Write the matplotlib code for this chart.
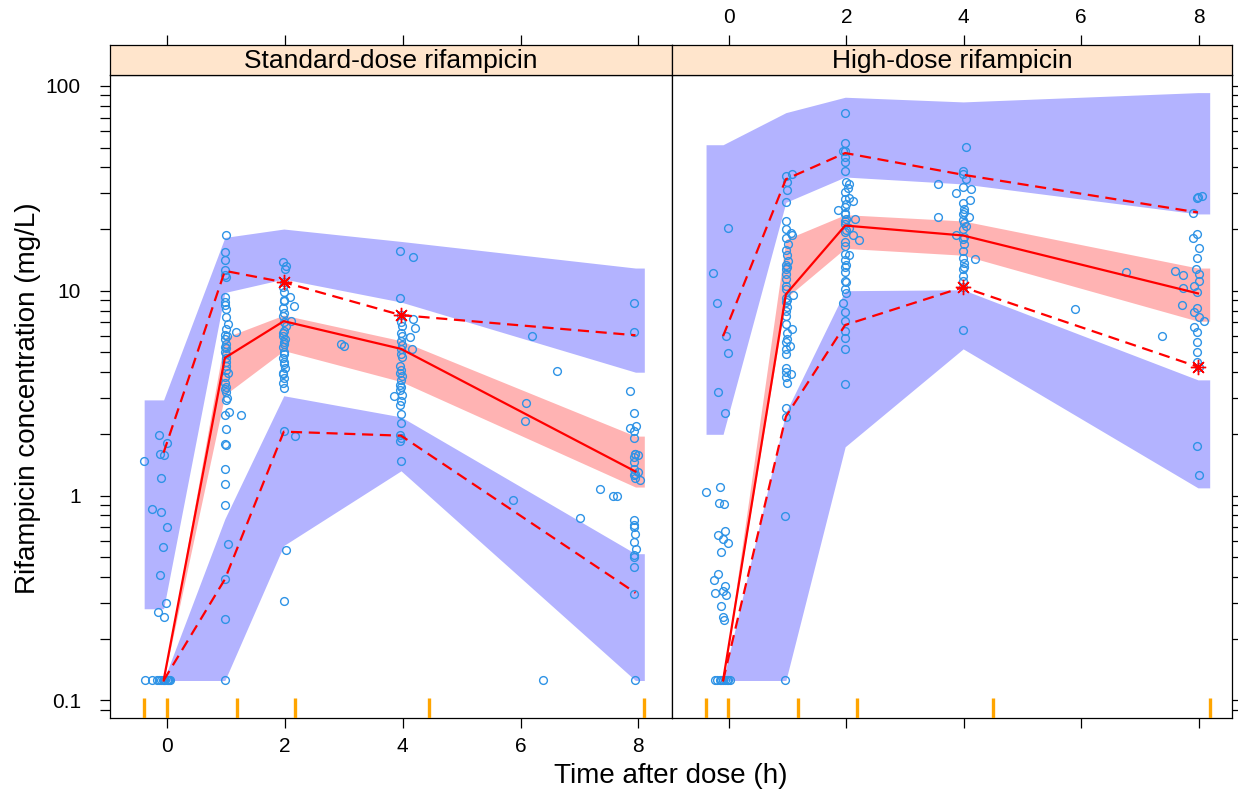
import numpy as np
import matplotlib.pyplot as plt
import matplotlib.transforms as mtransforms
from matplotlib.ticker import FixedLocator, NullFormatter

plt.rcParams['font.family'] = ['Liberation Sans', 'DejaVu Sans']

# ---------------------------------------------------------------------------
# Observed concentrations (mg/L) vs time after dose (h)
# ---------------------------------------------------------------------------
std_t = [
    # pre-dose
    -0.13, -0.01, -0.12, -0.05, -0.39, -0.10, -0.25, -0.10, -0.01, -0.07, -0.12, -0.02, -0.16, -0.05,
    -0.37, -0.26, -0.17, -0.13, -0.10, -0.07, -0.05, -0.03, -0.01, 0.01, 0.03, 0.05,
    # 1 h
    1.00, 0.99, 0.99, 0.98, 0.99, 1.00, 0.98, 0.99, 0.99, 1.00, 1.04, 1.00, 1.17, 0.99, 0.99, 1.00,
    1.00, 0.99, 1.00, 1.00, 1.00, 1.04, 0.99, 0.99, 1.01, 1.00, 0.99, 1.05, 1.26, 1.00, 0.99, 1.00,
    0.99, 0.98, 0.98, 1.04, 0.99, 0.99, 0.98, 1.00, 1.01, 0.99, 1.00, 1.00, 0.99, 1.00, 1.00,
    # 2 h
    1.97, 2.01, 2.00, 1.98, 1.97, 1.98, 2.08, 1.98, 2.15, 1.97, 1.98, 1.97, 2.11, 2.02, 1.98, 1.97,
    2.00, 1.98, 1.97, 1.98, 1.97, 1.98, 2.00, 1.97, 1.98, 1.97, 1.98, 1.98, 2.17, 2.01, 1.98,
    1.99, 1.98, 1.97, 1.98, 1.99, 1.98, 1.97,
    # 3 h
    2.95, 3.01,
    # 4 h
    3.96, 4.17, 3.96, 4.18, 3.97, 3.98, 4.21, 3.97, 4.12, 3.97, 3.98, 4.15, 3.97, 3.98, 3.97, 3.96,
    3.98, 3.97, 3.96, 3.95, 3.85, 3.97, 3.96, 3.97, 3.97, 3.96, 3.97, 3.96, 3.97, 3.97,
    3.98, 3.97, 3.96, 3.97, 3.98,
    # later, off-schedule
    6.19, 6.61, 6.10, 6.07, 7.34, 7.56, 7.63, 5.87, 7.00, 6.38,
    # 8 h
    7.93, 7.93, 7.85, 7.92, 7.96, 7.85, 7.93, 7.92, 7.94, 8.00, 7.93, 7.92, 8.00, 7.93, 7.94, 8.02,
    7.93, 7.92, 7.94, 7.93, 7.96, 7.93, 7.92, 7.93, 7.93, 7.94, 7.95, 7.93, 7.94, 7.92,
]
std_c = [
    1.98, 1.80, 1.59, 1.57, 1.47, 1.22, 0.86, 0.83, 0.70, 0.56, 0.41, 0.30, 0.27, 0.255,
    0.125, 0.125, 0.125, 0.125, 0.125, 0.125, 0.125, 0.125, 0.125, 0.125, 0.125, 0.125,
    18.6, 15.5, 14.1, 12.6, 11.9, 11.7, 9.35, 8.8, 8.5, 8.1, 6.9, 6.5, 6.3, 6.1, 5.8, 5.5,
    5.26, 5.0, 4.7, 4.5, 4.1, 3.97, 3.55, 3.3, 3.0, 2.94, 2.48, 2.55, 2.46, 2.12, 1.79, 1.76,
    1.34, 1.14, 0.90, 0.58, 0.39, 0.25, 0.125, 7.4, 6.0, 5.3, 4.9, 4.3, 3.8, 3.4, 3.2,
    13.8, 13.2, 12.8, 11.0, 10.4, 9.8, 9.3, 8.9, 8.4, 8.27, 7.8, 7.5, 7.1, 6.7, 6.35, 6.0,
    5.8, 5.6, 5.3, 5.0, 4.7, 4.4, 4.2, 3.97, 3.75, 3.55, 3.35, 2.06, 1.95, 0.54, 0.305,
    9.0, 7.0, 6.2, 5.5, 4.9, 4.5, 3.9,
    5.5, 5.4,
    15.6, 14.6, 9.25, 7.3, 7.0, 6.7, 6.55, 6.2, 5.95, 5.7, 5.43, 5.17, 4.9, 4.75, 4.1, 3.97,
    3.83, 3.65, 3.48, 3.26, 3.06, 2.9, 2.76, 2.5, 2.26, 1.98, 1.9, 1.84, 1.47, 7.6,
    6.0, 5.2, 4.3, 3.4, 3.1,
    6.03, 4.04, 2.83, 2.31, 1.08, 0.99, 0.99, 0.95, 0.775, 0.125,
    8.67, 6.3, 3.23, 2.53, 2.18, 2.14, 2.06, 1.91, 1.59, 1.57, 1.54, 1.34, 1.31, 1.26, 1.22, 1.19,
    0.76, 0.72, 0.65, 0.595, 0.55, 0.51, 0.50, 0.45, 0.33, 0.125, 1.60, 1.45, 1.28, 0.70,
]

high_t = [
    # pre-dose
    -0.02, -0.28, -0.20, -0.05, -0.02, -0.18, -0.07, -0.39, -0.16, -0.17, -0.09, -0.06, -0.18,
    -0.10, -0.01, -0.13, -0.18, -0.25, -0.07, -0.23, -0.10, -0.05, -0.13, -0.10, -0.09,
    -0.24, -0.20, -0.16, -0.13, -0.10, -0.07, -0.04, -0.01, 0.02,
    # 1 h
    0.97, 1.07, 0.99, 0.99, 0.98, 0.97, 0.98, 1.06, 1.08, 0.98, 1.00, 0.98, 0.99, 1.00, 0.98, 0.98,
    0.97, 0.98, 1.09, 0.98, 0.98, 0.99, 0.98, 0.98, 1.07, 0.99, 0.98, 1.04, 0.98, 0.98, 0.98, 1.06,
    0.98, 0.99, 0.98, 0.98, 0.96, 0.96, 0.99, 0.98, 0.98, 0.99, 0.98, 0.99, 0.98,
    # 2 h
    1.98, 1.98, 1.98, 1.95, 1.98, 1.98, 1.98, 1.99, 2.04, 2.03, 1.98, 2.05, 1.98, 2.12, 1.86, 1.98,
    1.98, 1.99, 2.14, 1.98, 2.04, 1.98, 2.12, 2.21, 1.98, 1.98, 2.04, 1.98, 2.00, 1.98, 1.98, 2.00,
    1.98, 1.99, 1.95, 1.98, 1.98, 1.98, 1.98, 1.98, 1.98, 1.99, 1.98, 1.98, 1.99, 1.98, 1.98,
    # 4 h
    4.03, 3.99, 3.98, 4.03, 3.56, 3.98, 4.12, 3.86, 4.11, 3.98, 4.00, 3.98, 3.56, 4.09, 3.98, 4.03,
    3.98, 3.86, 3.98, 4.00, 3.98, 4.20, 3.98, 4.00, 3.98, 3.98, 3.98, 3.99, 3.98,
    4.00, 4.00, 4.00, 4.00,
    # later, off-schedule
    6.77, 5.89, 7.37,
    # 8 h
    7.99, 8.06, 7.97, 7.91, 7.97, 7.90, 8.00, 7.97, 7.96, 7.60, 7.74, 8.00, 8.00, 7.93, 7.97, 7.73,
    7.71, 7.97, 7.92, 8.01, 8.10, 7.93, 7.97, 7.97, 7.97, 7.97, 7.97, 8.00, 8.00,
]
high_c = [
    20.3, 12.2, 8.7, 6.0, 4.98, 3.2, 2.54, 1.04, 1.10, 0.917, 0.906, 0.67, 0.64,
    0.61, 0.586, 0.53, 0.416, 0.386, 0.36, 0.335, 0.34, 0.326, 0.288, 0.255, 0.248,
    0.125, 0.125, 0.125, 0.125, 0.125, 0.125, 0.125, 0.125, 0.125,
    36.2, 37.0, 34.0, 30.9, 27.0, 22.0, 19.9, 19.2, 18.6, 18.1, 16.9, 15.8, 15.0, 14.0, 13.4, 12.8,
    11.4, 10.2, 9.5, 9.25, 8.8, 8.3, 7.5, 6.9, 6.5, 6.2, 5.6, 5.4, 5.2, 4.9, 4.2, 3.93,
    3.78, 3.55, 2.66, 2.41, 0.79, 0.125, 13.0, 12.0, 10.6, 9.0, 8.0, 5.8, 4.0,
    73.5, 52.4, 48.0, 48.0, 45.0, 42.4, 38.4, 34.0, 33.2, 31.8, 30.2, 28.5, 28.0, 27.3, 24.7, 25.5,
    23.7, 22.5, 22.5, 21.2, 20.2, 19.3, 18.6, 17.6, 17.3, 15.1, 15.0, 14.2, 13.4, 12.3, 11.2, 11.0,
    10.2, 9.7, 8.75, 7.9, 7.1, 6.35, 5.9, 5.2, 3.5, 26.5, 24.0, 21.8, 19.8, 16.5, 13.0,
    50.3, 38.4, 37.2, 35.0, 33.1, 32.0, 31.5, 30.1, 27.7, 26.7, 25.0, 23.7, 23.0, 22.8, 22.2, 20.8,
    19.9, 18.7, 17.8, 16.9, 15.7, 14.3, 14.5, 13.6, 12.7, 11.8, 11.2, 10.4, 6.4,
    24.2, 21.5, 18.3, 13.1,
    12.4, 8.1, 6.0,
    28.6, 28.9, 28.2, 23.9, 18.9, 18.0, 16.2, 14.5, 12.7, 12.5, 11.9, 12.1, 11.2, 10.5, 9.8, 10.3,
    8.5, 8.2, 7.9, 7.4, 7.1, 6.65, 6.3, 5.6, 5.0, 4.5, 1.75, 1.26, 4.25,
]

# ---------------------------------------------------------------------------
# Binning and VPC summaries (5th / 50th / 95th percentiles)
# ---------------------------------------------------------------------------
std_bin_t = [-0.06, 0.98, 1.98, 3.97, 7.95]
std_edges = [-0.39, 0.0, 1.19, 2.17, 4.44, 8.1]
std_obs_p05 = [0.125, 0.39, 2.05, 1.96, 0.335]
std_obs_p50 = [0.125, 4.7, 7.1, 5.2, 1.31]
std_obs_p95 = [1.62, 12.5, 11.0, 7.6, 6.06]
std_ci_p05 = ([0.125, 0.125, 0.57, 1.32, 0.125], [0.125, 0.77, 3.07, 2.42, 0.52])
std_ci_p50 = ([0.125, 3.1, 5.1, 3.6, 1.10], [0.125, 5.9, 7.6, 5.7, 1.95])
std_ci_p95 = ([0.28, 9.8, 11.4, 8.8, 4.0], [2.93, 18.2, 20.0, 17.4, 12.9])

high_bin_t = [-0.10, 0.97, 1.98, 3.99, 7.99]
high_edges = [-0.39, -0.02, 1.18, 2.18, 4.49, 8.19]
high_obs_p05 = [0.125, 2.43, 6.8, 10.4, 4.25]
high_obs_p50 = [0.125, 9.6, 20.8, 18.6, 9.7]
high_obs_p95 = [6.0, 35.0, 47.0, 36.8, 24.1]
high_ci_p05 = ([0.125, 0.125, 1.73, 5.2, 1.09], [0.125, 2.55, 10.0, 10.1, 3.67])
high_ci_p50 = ([0.125, 9.2, 16.1, 14.9, 7.1], [0.125, 17.8, 23.5, 21.9, 12.9])
high_ci_p95 = ([1.99, 27.0, 35.9, 33.2, 23.7], [51.6, 74.0, 88.0, 83.5, 92.7])

panel_titles = ['Standard-dose rifampicin', 'High-dose rifampicin']
x_ticks = [0, 2, 4, 6, 8]
y_ticks = [0.1, 1, 10, 100]
y_tick_labels = ['0.1', '1', '10', '100']

# ---------------------------------------------------------------------------
W, H = 1238, 800
fig = plt.figure(figsize=(W / 100, H / 100), dpi=100)

XLIM = (-0.97, 8.57)
YLIM = (0.082, 113)
BLUE = '#B3B3FF'
PINK = '#FFB3B3'
PT = '#2E93E6'
TICK_FS = 15


def px_axes(x0, y0, x1, y1):
    return fig.add_axes([x0 / W, 1 - y1 / H, (x1 - x0) / W, (y1 - y0) / H])


def extend(vals):
    return np.r_[vals[0], vals, vals[-1]]


def draw_panel(ax, strip, t, c, bin_t, edges, obs, cis, title, left):
    bx = np.r_[edges[0], bin_t, edges[-1]]
    for (lo, hi), col in zip(cis, [BLUE, PINK, BLUE]):
        ax.fill_between(bx, extend(lo), extend(hi), color=col, lw=0, zorder=1)

    ax.plot(t, c, 'o', ms=5.6, mfc='none', mec=PT, mew=1.0, zorder=2)

    for vals, ls in zip(obs, ['--', '-', '--']):
        ax.plot(bin_t, vals, color='red', ls=ls, lw=1.6,
                dashes=(5, 3) if ls == '--' else (None, None), zorder=3)

    # flag observed percentiles that fall outside the simulated interval
    for vals, (lo, hi) in zip(obs, cis):
        v, lo, hi = map(np.asarray, (vals, lo, hi))
        out = (v < lo * 0.99) | (v > hi * 1.01)
        ax.plot(np.asarray(bin_t)[out], v[out], ls='none', marker=(8, 2, 0),
                ms=11, mec='red', mew=1.0, zorder=4)

    # bin boundaries
    trans = mtransforms.blended_transform_factory(ax.transData, ax.transAxes)
    ax.vlines(edges, 0, 0.031, transform=trans, color='#FFA500', lw=2.4, zorder=5)

    ax.set_xlim(XLIM)
    ax.set_yscale('log')
    ax.set_ylim(YLIM)
    ax.yaxis.set_major_locator(FixedLocator(y_ticks))
    minors = [k * 10.0 ** e for e in (-2, -1, 0, 1, 2) for k in range(2, 10)]
    ax.yaxis.set_minor_locator(FixedLocator(minors))
    ax.yaxis.set_minor_formatter(NullFormatter())
    ax.set_xticks(x_ticks)
    ax.tick_params(which='both', direction='out', length=7, width=0.9,
                   labelsize=TICK_FS, color='black')
    ax.tick_params(axis='x', pad=7)
    if left:
        ax.set_yticklabels(y_tick_labels)
        ax.tick_params(axis='y', which='both', left=True, right=False,
                       labelleft=True, pad=14)
        ax.tick_params(axis='x', labelbottom=True)
    else:
        ax.yaxis.tick_right()
        ax.tick_params(which='both', labelright=False, left=False)
        ax.tick_params(axis='x', labelbottom=False)
    for s in ax.spines.values():
        s.set_linewidth(0.9)

    strip.set_facecolor('#FFE5CC')
    strip.set_xlim(XLIM)
    strip.set_yticks([])
    strip.xaxis.tick_top()
    strip.set_xticks(x_ticks)
    strip.tick_params(axis='x', direction='out', length=7, width=0.9, pad=6,
                      labelsize=TICK_FS, labeltop=not left)
    for s in strip.spines.values():
        s.set_linewidth(0.9)
    strip.text(0.5, 0.47, title, transform=strip.transAxes, ha='center',
               va='center', fontsize=19)


ax1 = px_axes(110, 75, 672, 718)
ax2 = px_axes(672, 75, 1232, 718)
st1 = px_axes(110, 45, 672, 75)
st2 = px_axes(672, 45, 1232, 75)

draw_panel(ax1, st1, std_t, std_c, std_bin_t, std_edges,
           [std_obs_p05, std_obs_p50, std_obs_p95],
           [std_ci_p05, std_ci_p50, std_ci_p95], panel_titles[0], True)
draw_panel(ax2, st2, high_t, high_c, high_bin_t, high_edges,
           [high_obs_p05, high_obs_p50, high_obs_p95],
           [high_ci_p05, high_ci_p50, high_ci_p95], panel_titles[1], False)

fig.text(671 / W, 1 - 776 / H, 'Time after dose (h)', ha='center', va='center', fontsize=20)
fig.text(28 / W, 1 - 398 / H, 'Rifampicin concentration (mg/L)', ha='center',
         va='center', rotation=90, fontsize=20)

fig.savefig('out.png', dpi=100)
